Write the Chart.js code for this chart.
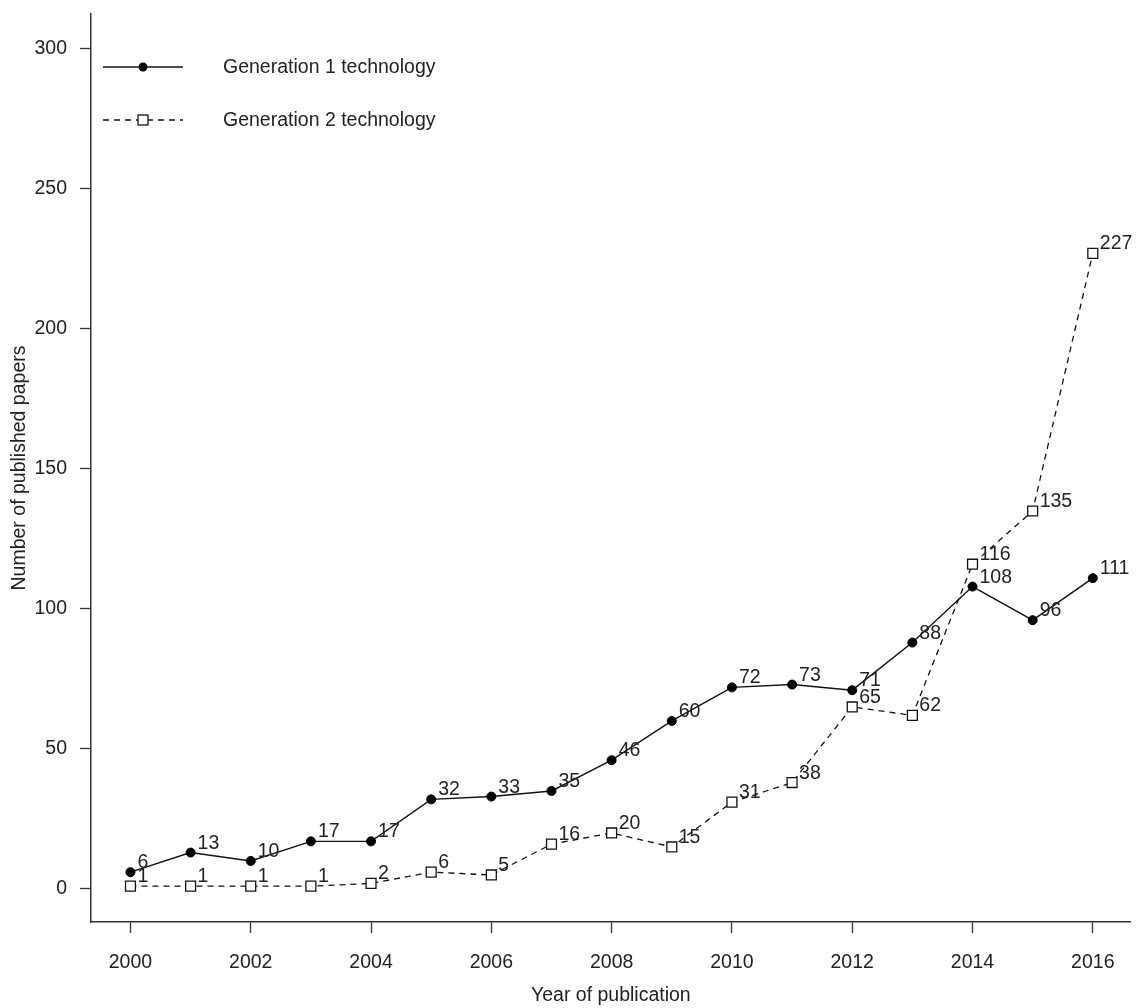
<!DOCTYPE html>
<html>
<head>
<meta charset="utf-8">
<title>Published papers</title>
<script src="https://cdn.jsdelivr.net/npm/chart.js@4.4.1/dist/chart.umd.min.js"></script>
<style>
    html, body { margin: 0; padding: 0; background: #ffffff; }
    #chartWrap { width: 1139px; height: 1008px; }
</style>
</head>
<body>
<div id="chartWrap"><canvas id="paperChart" width="1139" height="1008"></canvas></div>
<script>
// データ
const years = [2000, 2001, 2002, 2003, 2004, 2005, 2006, 2007, 2008, 2009, 2010, 2011, 2012, 2013, 2014, 2015, 2016];
const gen1Papers = [6, 13, 10, 17, 17, 32, 33, 35, 46, 60, 72, 73, 71, 88, 108, 96, 111];
const gen2Papers = [1, 1, 1, 1, 2, 6, 5, 16, 20, 15, 31, 38, 65, 62, 116, 135, 227];
const xTickYears = [2000, 2002, 2004, 2006, 2008, 2010, 2012, 2014, 2016];
const yTickValues = [0, 50, 100, 150, 200, 250, 300];
const seriesNames = ['Generation 1 technology', 'Generation 2 technology'];

const FONT_FAMILY = "'Liberation Sans', Arial, sans-serif";
const FONT_SIZE = 19.5;
const TEXT_COLOR = '#222222';
const AXIS_COLOR = '#333333';

/**
 * 各点の右上に値ラベルを描画するプラグイン
 */
const pointValueLabels = {
    id: 'pointValueLabels',
    afterDatasetsDraw: (chart) => {
        const ctx = chart.ctx;
        ctx.save();
        ctx.fillStyle = TEXT_COLOR;
        ctx.font = `${FONT_SIZE}px ${FONT_FAMILY}`;
        ctx.textAlign = 'left';
        ctx.textBaseline = 'alphabetic';
        chart.data.datasets.forEach((dataset, datasetIndex) => {
            const meta = chart.getDatasetMeta(datasetIndex);
            meta.data.forEach((element, i) => {
                ctx.fillText(String(dataset.data[i].y), element.x + 7, element.y - 4);
            });
        });
        ctx.restore();
    },
};

/**
 * 左上の凡例（線＋マーカー＋名前）を描画するプラグイン
 */
const insetLegend = {
    id: 'insetLegend',
    afterDraw: (chart) => {
        const ctx = chart.ctx;
        const left = chart.chartArea.left;
        const rows = [
            { y: 67, dash: [], marker: 'dot' },
            { y: 120, dash: [6, 5], marker: 'square' },
        ];
        ctx.save();
        rows.forEach((row, i) => {
            const ds = chart.data.datasets[i];
            ctx.strokeStyle = ds.borderColor;
            ctx.lineWidth = ds.borderWidth;
            ctx.setLineDash(row.dash);
            ctx.beginPath();
            ctx.moveTo(left + 12, row.y);
            ctx.lineTo(left + 92, row.y);
            ctx.stroke();
            ctx.setLineDash([]);

            const mx = left + 52;
            if (row.marker === 'dot') {
                ctx.fillStyle = '#000000';
                ctx.beginPath();
                ctx.arc(mx, row.y, 4.5, 0, Math.PI * 2);
                ctx.fill();
            } else {
                ctx.fillStyle = '#ffffff';
                ctx.fillRect(mx - 5, row.y - 5, 10, 10);
                ctx.lineWidth = 1.3;
                ctx.strokeRect(mx - 5, row.y - 5, 10, 10);
            }

            ctx.fillStyle = TEXT_COLOR;
            ctx.font = `${FONT_SIZE}px ${FONT_FAMILY}`;
            ctx.textAlign = 'left';
            ctx.textBaseline = 'middle';
            ctx.fillText(seriesNames[i], left + 132, row.y + 1);
        });
        ctx.restore();
    },
};

const toPoints = (values) => values.map((v, i) => ({ x: years[i], y: v }));
const tickFont = { family: FONT_FAMILY, size: FONT_SIZE };

// 軸の幅・高さを固定し、ラベル分の余白を無効化
const fixAxisSize = (size) => (scale) => {
    if (scale.isHorizontal()) scale.height = size;
    else scale.width = size;
    scale.paddingTop = 0;
    scale.paddingBottom = 0;
    scale.paddingLeft = 0;
    scale.paddingRight = 0;
};

new Chart(document.querySelector('#paperChart').getContext('2d'), {
    type: 'line',
    data: {
        datasets: [
            {
                label: seriesNames[0],
                data: toPoints(gen1Papers),
                borderColor: '#111111',
                borderWidth: 1.4,
                pointStyle: 'circle',
                pointRadius: 4.5,
                pointBackgroundColor: '#000000',
                pointBorderColor: '#000000',
                pointBorderWidth: 1,
                tension: 0,
            },
            {
                label: seriesNames[1],
                data: toPoints(gen2Papers),
                borderColor: '#111111',
                borderWidth: 1.3,
                borderDash: [6, 5],
                pointStyle: 'rect',
                pointRadius: 7,
                pointBackgroundColor: '#ffffff',
                pointBorderColor: '#111111',
                pointBorderWidth: 1.3,
                tension: 0,
            },
        ],
    },
    options: {
        responsive: false,
        animation: false,
        devicePixelRatio: 1,
        layout: { padding: { top: 14, right: 7, bottom: 0, left: 5 } },
        plugins: {
            legend: { display: false },
            tooltip: { enabled: false },
        },
        scales: {
            x: {
                type: 'linear',
                min: 1999.344,
                max: 2016.63,
                afterBuildTicks: (scale) => {
                    scale.ticks = xTickYears.map((v) => ({ value: v }));
                },
                afterFit: fixAxisSize(86),
                grid: { drawOnChartArea: false, drawTicks: true, tickLength: 11, tickWidth: 1.3, tickColor: AXIS_COLOR },
                border: { display: true, color: AXIS_COLOR, width: 1.5 },
                ticks: {
                    font: tickFont,
                    color: TEXT_COLOR,
                    padding: 18,
                    maxRotation: 0,
                    autoSkip: false,
                    callback: (v) => String(v),
                },
                title: {
                    display: true,
                    text: 'Year of publication',
                    font: tickFont,
                    color: TEXT_COLOR,
                    padding: { top: 9, bottom: 1 },
                },
            },
            y: {
                type: 'linear',
                min: -11.8,
                max: 312.5,
                afterBuildTicks: (scale) => {
                    scale.ticks = yTickValues.map((v) => ({ value: v }));
                },
                afterFit: fixAxisSize(86),
                grid: { drawOnChartArea: false, drawTicks: true, tickLength: 11, tickWidth: 1.3, tickColor: AXIS_COLOR },
                border: { display: true, color: AXIS_COLOR, width: 1.5 },
                ticks: {
                    font: tickFont,
                    color: TEXT_COLOR,
                    padding: 13,
                    callback: (v) => String(v),
                },
                title: {
                    display: true,
                    text: 'Number of published papers',
                    font: tickFont,
                    color: TEXT_COLOR,
                    padding: { top: 3, bottom: 3 },
                },
            },
        },
    },
    plugins: [pointValueLabels, insetLegend],
});
</script>
</body>
</html>
